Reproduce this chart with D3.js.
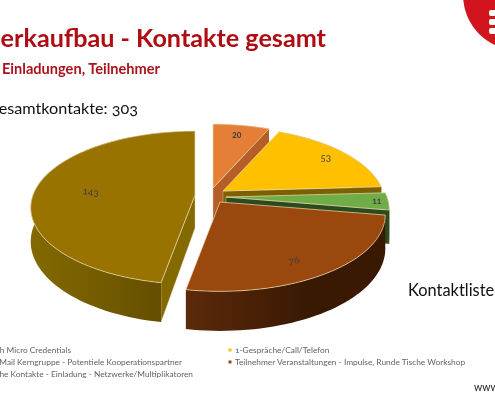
<!DOCTYPE html>
<html><head><meta charset="utf-8">
<script src="https://cdn.jsdelivr.net/npm/d3@7"></script>
<style>html,body{margin:0;padding:0;background:#fff;overflow:hidden}svg{display:block;filter:blur(0.35px)}text{font-family:Lato,"Open Sans",sans-serif;font-feature-settings:"onum" 1}</style>
</head><body><svg id="c" width="495" height="400"></svg>
<script>
const categories=["h Micro Credentials","1-Gespräche/Call/Telefon","Mail Kerngruppe - Potentiele Kooperationspartner","Teilnehmer Veranstaltungen - Impulse, Runde Tische Workshop","he Kontakte - Einladung - Netzwerke/Multiplikatoren"];
const values=[20,53,11,76,143];
const topColors=["#E57E36","#FFC000","#70AD47","#9B480F","#997300"];
const sideColors=["#B55E28","#7F6000","#2C4A1E","#5C2A0A","#846900"];
const rimDark=["#B55E28","#7F6000","#2C4A1E","#3A1903","#5C4800"];
const apexX=[213,223,226,220,195], apexY=[188,191,197,202,195];
const radii=[160,160,161,163,162];
const labelR=[.82,.845,.93,.8,.65], labelNudge=[0,0,0,5,-1], labelRot=[0,0,0,-10,8];
const titleText="erkaufbau - Kontakte gesamt", subText="Einladungen, Teilnehmer", totalText="esamtkontakte: 303", sideText="Kontaktliste", urlText="www";

const svg=d3.select("#c");
const rad=Math.PI/180, k=.166, ry=74.5, d0=33;
const arcs=d3.pie().sort(null).value(d=>d)(values);
const proj=(i,a,r=1)=>{const X=Math.sin(a)*r,Y=-Math.cos(a)*r,s=1/(1-k*Y);
  return {x:apexX[i]+X*s*radii[i],y:apexY[i]+Y*s*ry,dp:d0*s};};
const line=d3.line().x(p=>p[0]).y(p=>p[1]);
const defs=svg.append("defs");
const order=[0,1,2,4,3];
order.forEach(i=>{
  const a0=arcs[i].startAngle,a1=arcs[i].endAngle;
  const g=svg.append("g");
  const n=Math.max(8,Math.round((a1-a0)/rad/2));
  const angles=d3.range(n+1).map(j=>a0+(a1-a0)*j/n);
  const pts=angles.map(a=>proj(i,a));
  const apex={x:apexX[i],y:apexY[i],dp:d0};
  const gid="rim"+i;
  const gr=defs.append("linearGradient").attr("id",gid).attr("gradientUnits","userSpaceOnUse")
    .attr("x1",d3.min(pts,p=>p.x)).attr("x2",d3.max(pts,p=>p.x)).attr("y1",0).attr("y2",0);
  gr.append("stop").attr("offset",0).attr("stop-color",sideColors[i]);
  gr.append("stop").attr("offset",i==4?1:.6).attr("stop-color",rimDark[i]);
  const face=(a)=>{const p=proj(i,a);
    g.append("path").attr("d",line([[apex.x,apex.y],[p.x,p.y],[p.x,p.y+p.dp],[apex.x,apex.y+apex.dp]])+"Z")
     .attr("fill",sideColors[i]).attr("stroke","#d8cf9f").attr("stroke-width",.4);};
  if(a0>Math.PI) face(a0);
  if(a1<Math.PI+1e-9&&a1>0) face(a1);
  g.append("path").attr("d",line(pts.map(p=>[p.x,p.y]).concat(pts.slice().reverse().map(p=>[p.x,p.y+p.dp])))+"Z")
    .attr("fill",`url(#${gid})`);
  g.append("path").attr("d",line([[apex.x,apex.y]].concat(pts.map(p=>[p.x,p.y])))+"Z")
    .attr("fill",topColors[i]).attr("stroke","#e8dcb0").attr("stroke-width",.7).attr("stroke-linejoin","round");
});
arcs.forEach((d,i)=>{
  const p=proj(i,(d.startAngle+d.endAngle)/2+labelNudge[i]*rad,labelR[i]);
  svg.append("text").attr("transform",`translate(${p.x},${p.y}) rotate(${labelRot[i]})`)
    .attr("text-anchor","middle").attr("dy","0.35em")
    .attr("font-size",i==3||i==4||i==1?10:8.5).attr("font-weight",i==0||i==2?700:400).attr("fill","#404040").text(values[i]);
});
// header
svg.append("circle").attr("cx",518).attr("cy",-5).attr("r",55).attr("fill","#D2141E");
svg.append("g").selectAll("rect").data([10,19,28]).join("rect").attr("x",489).attr("y",d=>d).attr("width",8).attr("height",6).attr("rx",2).attr("fill","#fff");
svg.append("text").attr("x",326).attr("y",47).attr("text-anchor","end").attr("font-size",25.2).attr("font-weight",700).attr("fill","#AE0D13").text(titleText);
svg.append("text").attr("x",160).attr("y",74).attr("text-anchor","end").attr("font-size",14.6).attr("font-weight",700).attr("fill","#A8141C").text(subText);
svg.append("text").attr("x",138).attr("y",114).attr("text-anchor","end").attr("font-size",16.2).attr("fill","#111").text(totalText);
svg.append("text").attr("x",408).attr("y",296).attr("font-size",16.4).attr("fill","#111").text(sideText);
svg.append("text").attr("x",474).attr("y",391).attr("font-size",10.5).attr("fill","#222").text(urlText);
// legend
const legendRows=[350,362,374], legendEndX=[71,182,193];
[0,2,4].forEach((c,r)=>svg.append("text").attr("x",legendEndX[r]).attr("y",legendRows[r]+2.5).attr("text-anchor","end").attr("font-size",8.3).attr("fill","#636363").text(categories[c]));
[1,3].forEach((c,r)=>{
  svg.append("rect").attr("x",228.5).attr("y",legendRows[r]-1.5).attr("width",3).attr("height",3).attr("fill",topColors[c]);
  svg.append("text").attr("x",235).attr("y",legendRows[r]+2.5).attr("font-size",8.35).attr("fill","#636363").text(categories[c]);
});
</script></body></html>
